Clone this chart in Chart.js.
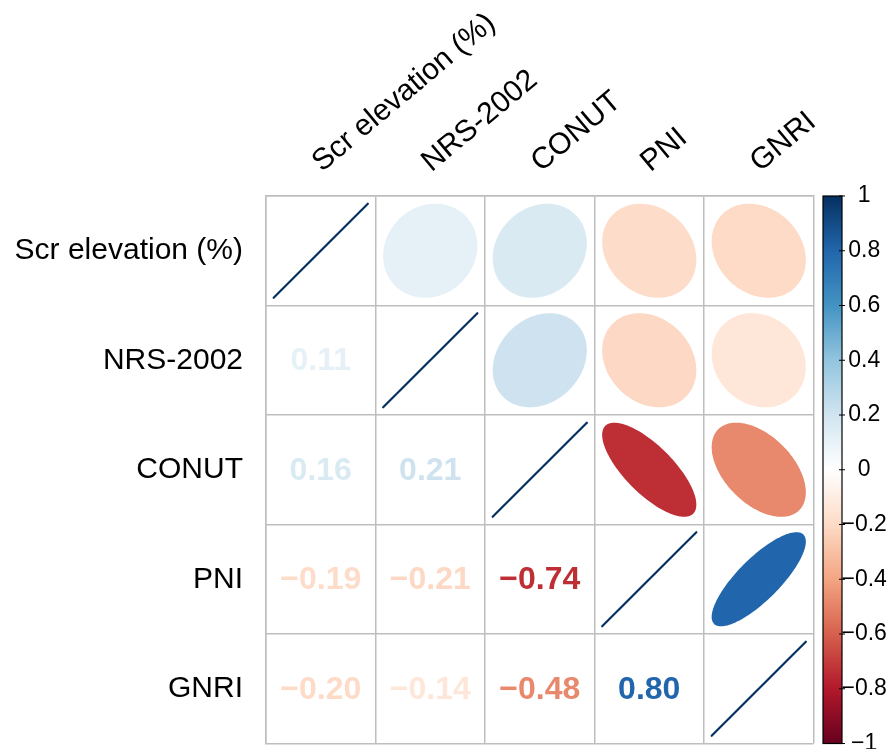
<!DOCTYPE html>
<html>
<head>
<meta charset="utf-8">
<script src="https://cdn.jsdelivr.net/npm/chart.js@4.4.0/dist/chart.umd.min.js"></script>
<style>
html, body { margin: 0; padding: 0; background: #fff; }
#wrap { width: 892px; height: 749px; position: relative; }
</style>
</head>
<body>
<div id="wrap"><canvas id="corr"></canvas></div>
<script>
var variables = ['Scr elevation (%)', 'NRS-2002', 'CONUT', 'PNI', 'GNRI'];

// correlation matrix, one row per variable
var rowScr   = [1.00, 0.11, 0.16, -0.19, -0.20];
var rowNrs   = [0.11, 1.00, 0.21, -0.21, -0.14];
var rowConut = [0.16, 0.21, 1.00, -0.74, -0.48];
var rowPni   = [-0.19, -0.21, -0.74, 1.00, 0.80];
var rowGnri  = [-0.20, -0.14, -0.48, 0.80, 1.00];

var legendTicks = [-1, -0.8, -0.6, -0.4, -0.2, 0, 0.2, 0.4, 0.6, 0.8, 1];

// RdBu palette from -1 to 1
var rdbu = ['#67001F', '#B2182B', '#D6604D', '#F4A582', '#FDDBC7', '#FFFFFF',
            '#D1E5F0', '#92C5DE', '#4393C3', '#2166AC', '#053061'];

var matrix = [rowScr, rowNrs, rowConut, rowPni, rowGnri];
var cells = [];
matrix.forEach(function (row, r) {
    row.forEach(function (v, c) {
        cells.push({ x: variables[c], y: variables[r], v: v, row: r, col: c });
    });
});

function hexRgb(h) {
    return [parseInt(h.substr(1, 2), 16), parseInt(h.substr(3, 2), 16), parseInt(h.substr(5, 2), 16)];
}

function corrColor(v) {
    var p = (v + 1) / 2 * (rdbu.length - 1);
    var i = Math.min(Math.floor(p), rdbu.length - 2);
    var t = p - i;
    var a = hexRgb(rdbu[i]), b = hexRgb(rdbu[i + 1]);
    return 'rgb(' + Math.round(a[0] + (b[0] - a[0]) * t) + ',' +
        Math.round(a[1] + (b[1] - a[1]) * t) + ',' +
        Math.round(a[2] + (b[2] - a[2]) * t) + ')';
}

function fmt(v) {
    return (v < 0 ? '\u2212' : '') + Math.abs(v).toFixed(2);
}

function noPad(s) {
    s.paddingTop = 0;
    s.paddingBottom = 0;
    s.paddingLeft = 0;
    s.paddingRight = 0;
}

var corrPlugin = {
    id: 'corrCells',
    afterDatasetsDraw: function (chart) {
        var ctx = chart.ctx;
        var xs = chart.scales.x, ys = chart.scales.y;
        var cw = Math.abs(xs.getPixelForValue(1) - xs.getPixelForValue(0));
        var ch = Math.abs(ys.getPixelForValue(1) - ys.getPixelForValue(0));
        var meta = chart.getDatasetMeta(0);
        var data = chart.data.datasets[0].data;
        meta.data.forEach(function (pt, i) {
            var d = data[i];
            var col = corrColor(d.v);
            ctx.save();
            if (d.col === d.row) {
                ctx.strokeStyle = col;
                ctx.lineWidth = 2.2;
                ctx.lineCap = 'round';
                ctx.beginPath();
                ctx.moveTo(pt.x - 0.43 * cw, pt.y + 0.43 * ch);
                ctx.lineTo(pt.x + 0.43 * cw, pt.y - 0.43 * ch);
                ctx.stroke();
            } else if (d.col > d.row) {
                var a = Math.acos(d.v);
                ctx.beginPath();
                for (var k = 0; k <= 120; k++) {
                    var t = k / 120 * 2 * Math.PI;
                    var ex = Math.cos(t + a / 2) / 2, ey = Math.cos(t - a / 2) / 2;
                    var px = pt.x + ex * cw * 0.86, py = pt.y - ey * ch * 0.86;
                    if (k === 0) ctx.moveTo(px, py); else ctx.lineTo(px, py);
                }
                ctx.closePath();
                ctx.fillStyle = col;
                ctx.fill();
            } else {
                ctx.fillStyle = col;
                ctx.font = 'bold 32px "Liberation Sans", Arial, sans-serif';
                ctx.textAlign = 'center';
                ctx.textBaseline = 'middle';
                ctx.fillText(fmt(d.v), pt.x, pt.y + 1);
            }
            ctx.restore();
        });

        // colour legend
        var cb = chart.scales.cb;
        var x0 = chart.chartArea.right + 9.5, w = 19;
        var top = cb.getPixelForValue(1), bottom = cb.getPixelForValue(-1);
        var grad = ctx.createLinearGradient(0, bottom, 0, top);
        rdbu.forEach(function (c, i) { grad.addColorStop(i / (rdbu.length - 1), c); });
        ctx.save();
        ctx.fillStyle = grad;
        ctx.fillRect(x0, top, w, bottom - top);
        ctx.strokeStyle = '#000';
        ctx.lineWidth = 1.2;
        ctx.strokeRect(x0, top, w, bottom - top);
        ctx.beginPath();
        legendTicks.forEach(function (v) {
            var y = cb.getPixelForValue(v);
            ctx.moveTo(x0 + w - 3, y);
            ctx.lineTo(x0 + w + 3, y);
        });
        ctx.stroke();
        ctx.restore();
    }
};

var labelFont = { family: '"Liberation Sans", Arial, sans-serif', size: 30 };

new Chart(document.getElementById('corr'), {
    type: 'scatter',
    data: {
        datasets: [{
            data: cells,
            pointRadius: 0,
            pointHoverRadius: 0
        }]
    },
    options: {
        responsive: true,
        maintainAspectRatio: false,
        animation: false,
        events: [],
        layout: { padding: { left: 0, top: 0, right: 0, bottom: 5.5 } },
        plugins: { legend: { display: false }, tooltip: { enabled: false } },
        scales: {
            x: {
                type: 'category',
                labels: variables,
                position: 'top',
                offset: true,
                grid: { offset: true, color: '#bebebe', lineWidth: 1.5, drawTicks: false },
                border: { color: '#bebebe', width: 1.5 },
                ticks: {
                    color: '#000', font: labelFont, autoSkip: false,
                    minRotation: 40, maxRotation: 40, padding: 16, labelOffset: 19
                },
                afterFit: function (s) { s.height = 196; noPad(s); }
            },
            y: {
                type: 'category',
                labels: variables,
                offset: true,
                grid: { offset: true, color: '#bebebe', lineWidth: 1.5, drawTicks: false },
                border: { color: '#bebebe', width: 1.5 },
                ticks: { color: '#000', font: labelFont, padding: 23 },
                afterFit: function (s) { s.width = 266; noPad(s); }
            },
            cb: {
                type: 'linear',
                axis: 'y',
                position: 'right',
                min: -1,
                max: 1,
                grid: { display: false, drawTicks: false },
                border: { display: false },
                afterBuildTicks: function (s) {
                    s.ticks = legendTicks.map(function (v) { return { value: v }; });
                },
                ticks: {
                    color: '#000',
                    font: { family: '"Liberation Sans", Arial, sans-serif', size: 23 },
                    crossAlign: 'center',
                    padding: 28,
                    callback: function (v) { return String(Math.round(v * 10) / 10).replace('-', '\u2212'); }
                },
                afterFit: function (s) { s.width = 78.5; noPad(s); }
            }
        }
    },
    plugins: [corrPlugin]
});
</script>
</body>
</html>
